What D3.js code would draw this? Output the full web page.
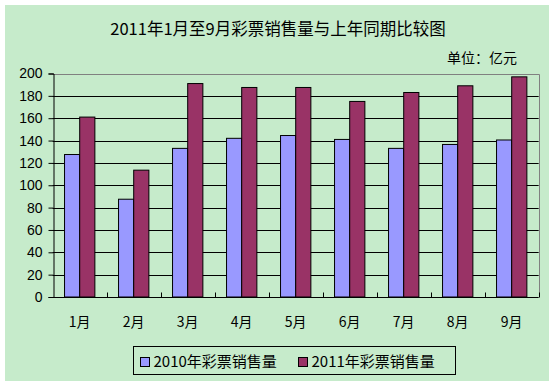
<!DOCTYPE html>
<html>
<head>
<meta charset="utf-8">
<script src="https://cdn.jsdelivr.net/npm/d3@7"></script>
<style>
  body { margin: 0; background: #fff; }
  text { font-family: "SimSun", "Noto Sans CJK SC", sans-serif; fill: #000; }
</style>
</head>
<body>
<div id="chart"></div>
<script>
var width = 554;
var height = 384;

// data (亿元)
var months = ["1月", "2月", "3月", "4月", "5月", "6月", "7月", "8月", "9月"];
var sales2010 = [127.5, 87.5, 133, 142, 144.5, 141, 133, 136.5, 140.5];
var sales2011 = [161, 113.5, 191, 187.5, 187.5, 175, 183, 189, 197];
var seriesNames = ["2010年彩票销售量", "2011年彩票销售量"];
var seriesColors = ["#9999FF", "#993366"];
var yTicks = [0, 20, 40, 60, 80, 100, 120, 140, 160, 180, 200];

document.addEventListener("DOMContentLoaded", function() {
    var svg = d3.select("#chart")
        .append("svg")
        .attr("width", width)
        .attr("height", height);

    // chart background
    svg.append("rect")
        .attr("x", 5).attr("y", 5)
        .attr("width", 544).attr("height", 376)
        .attr("fill", "#C6EBCB");

    var plot = {left: 52.7, top: 73.5, right: 538.7, bottom: 297};

    var x = d3.scaleBand()
        .domain(months)
        .range([plot.left, plot.right]);
    var xSub = d3.scaleBand()
        .domain([0, 1])
        .range([0, x.bandwidth()])
        .paddingOuter(0.78)
        .paddingInner(0);
    var y = d3.scaleLinear()
        .domain([0, 200])
        .range([plot.bottom, plot.top]);

    // gridlines
    svg.append("g")
        .selectAll("line")
        .data(yTicks.slice(1, -1))
        .enter()
        .append("line")
        .attr("x1", plot.left).attr("x2", plot.right)
        .attr("y1", d => Math.round(y(d)) + 0.5)
        .attr("y2", d => Math.round(y(d)) + 0.5)
        .attr("stroke", "#000")
        .attr("stroke-width", 1);

    // plot border (top + right, grey)
    svg.append("path")
        .attr("d", "M" + plot.left + "," + (Math.round(plot.top) + 0.5) +
                   "H" + (Math.round(plot.right) + 0.5) +
                   "V" + plot.bottom)
        .attr("fill", "none")
        .attr("stroke", "#808080");

    // bars
    var data = months.map((m, i) => ({month: m, values: [sales2010[i], sales2011[i]]}));
    var groups = svg.append("g")
        .selectAll("g")
        .data(data)
        .enter()
        .append("g")
        .attr("transform", d => "translate(" + x(d.month) + ",0)");

    groups.selectAll("rect")
        .data(d => d.values.map((v, k) => ({k: k, v: v})))
        .enter()
        .append("rect")
        .attr("x", d => xSub(d.k))
        .attr("y", d => y(d.v))
        .attr("width", xSub.bandwidth())
        .attr("height", d => plot.bottom - y(d.v))
        .attr("fill", d => seriesColors[d.k])
        .attr("stroke", "#000")
        .attr("stroke-width", 1);

    // y axis
    var yAxis = svg.append("g")
        .attr("transform", "translate(" + (Math.round(plot.left) + 0.5) + ",0)")
        .call(d3.axisLeft(y).tickValues(yTicks).tickSize(5).tickPadding(6));
    yAxis.select(".domain").attr("stroke", "#000");
    yAxis.selectAll(".tick line").attr("stroke", "#000");
    yAxis.selectAll("text")
        .style("font-family", "Arial, 'Liberation Sans', sans-serif")
        .style("font-size", "14px")
        .attr("fill", "#000");

    // x axis: ticks at category boundaries
    var xAxis = svg.append("g")
        .attr("transform", "translate(0," + (Math.round(plot.bottom) + 0.5) + ")");
    xAxis.append("line")
        .attr("x1", plot.left).attr("x2", plot.right)
        .attr("stroke", "#000");
    xAxis.selectAll(".bt")
        .data(months)
        .enter()
        .append("line")
        .attr("class", "bt")
        .attr("x1", d => Math.round(x(d) + x.bandwidth()) + 0.5)
        .attr("x2", d => Math.round(x(d) + x.bandwidth()) + 0.5)
        .attr("y1", 0).attr("y2", -5)
        .attr("stroke", "#000");
    xAxis.selectAll("text")
        .data(months)
        .enter()
        .append("text")
        .attr("x", d => x(d) + x.bandwidth() / 2)
        .attr("y", 29)
        .attr("text-anchor", "middle")
        .style("font-size", "14px")
        .text(d => d);

    // title
    svg.append("text")
        .attr("x", 278)
        .attr("y", 35)
        .attr("text-anchor", "middle")
        .style("font-size", "16.5px")
        .text("2011年1月至9月彩票销售量与上年同期比较图");

    svg.append("text")
        .attr("x", 517)
        .attr("y", 63)
        .attr("text-anchor", "end")
        .style("font-size", "14px")
        .text("单位：亿元");

    // legend
    var legend = svg.append("g");
    legend.append("rect")
        .attr("x", 133.5).attr("y", 346.5)
        .attr("width", 322).attr("height", 28)
        .attr("fill", "none")
        .attr("stroke", "#000");
    var legendX = [140.5, 298.5];
    seriesNames.forEach(function(name, i) {
        legend.append("rect")
            .attr("x", legendX[i]).attr("y", 357.5)
            .attr("width", 9).attr("height", 9)
            .attr("fill", seriesColors[i])
            .attr("stroke", "#000");
        legend.append("text")
            .attr("x", legendX[i] + 13)
            .attr("y", 367)
            .style("font-size", "15px")
            .text(name);
    });
});
</script>
</body>
</html>
